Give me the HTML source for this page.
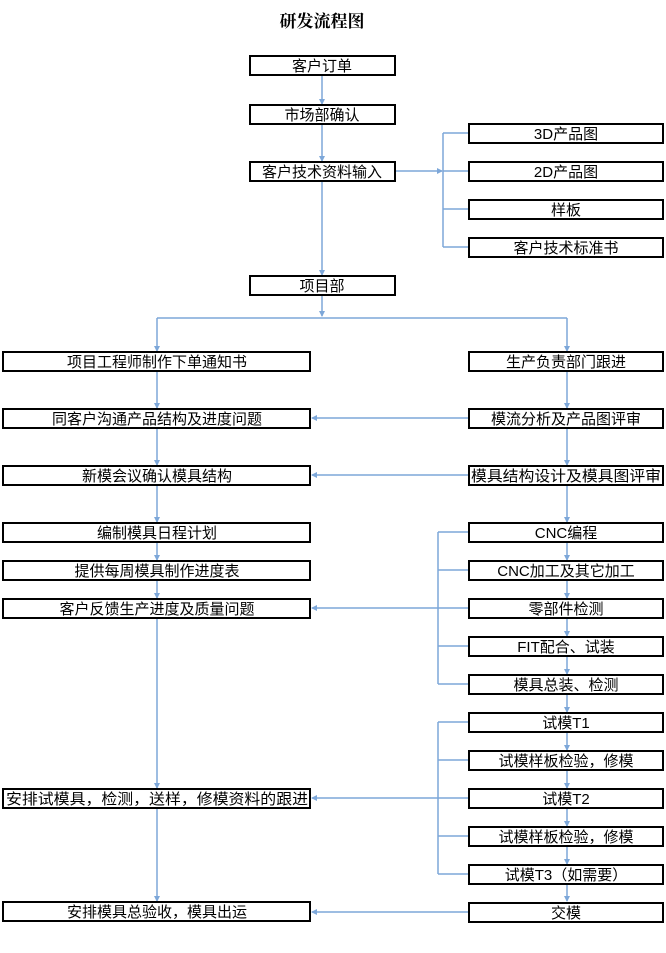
<!DOCTYPE html>
<html><head><meta charset="utf-8"><style>
html,body{margin:0;padding:0;background:#fff;}
svg{display:block;}
text{font-family:"Liberation Sans","Noto Sans CJK SC",sans-serif;font-size:15px;fill:#000;}
.t{font-family:"Liberation Serif","Noto Serif CJK SC",serif;font-size:17px;font-weight:bold;}
rect{fill:#fff;stroke:#000;stroke-width:2;}
line{stroke:#7da7d9;stroke-width:1.5;}
</style></head><body>
<svg width="666" height="953" viewBox="0 0 666 953" xmlns="http://www.w3.org/2000/svg">
<defs><marker id="a" markerWidth="6" markerHeight="6" refX="5" refY="3" orient="auto" markerUnits="userSpaceOnUse"><path d="M0,0 L6,3 L0,6 z" fill="#7da7d9"/></marker></defs>
<text class="t" x="322" y="27" text-anchor="middle">研发流程图</text>

<!-- connectors -->
<line x1="322" y1="75" x2="322" y2="104" marker-end="url(#a)"/>
<line x1="322" y1="124" x2="322" y2="161" marker-end="url(#a)"/>
<line x1="322" y1="181" x2="322" y2="275" marker-end="url(#a)"/>
<line x1="395" y1="171" x2="442" y2="171" marker-end="url(#a)"/>
<line x1="443" y1="133" x2="443" y2="247"/>
<line x1="443" y1="133" x2="469" y2="133"/>
<line x1="443" y1="171" x2="469" y2="171"/>
<line x1="443" y1="209" x2="469" y2="209"/>
<line x1="443" y1="247" x2="469" y2="247"/>
<line x1="322" y1="295" x2="322" y2="316" marker-end="url(#a)"/>
<line x1="157" y1="318" x2="567" y2="318"/>
<line x1="157" y1="318" x2="157" y2="351" marker-end="url(#a)"/>
<line x1="567" y1="318" x2="567" y2="351" marker-end="url(#a)"/>

<line x1="157" y1="371" x2="157" y2="408" marker-end="url(#a)"/>
<line x1="157" y1="428" x2="157" y2="465" marker-end="url(#a)"/>
<line x1="157" y1="485" x2="157" y2="522" marker-end="url(#a)"/>
<line x1="157" y1="542" x2="157" y2="560" marker-end="url(#a)"/>
<line x1="157" y1="580" x2="157" y2="598" marker-end="url(#a)"/>
<line x1="157" y1="618" x2="157" y2="788" marker-end="url(#a)"/>
<line x1="157" y1="808" x2="157" y2="901" marker-end="url(#a)"/>

<line x1="567" y1="371" x2="567" y2="408" marker-end="url(#a)"/>
<line x1="567" y1="428" x2="567" y2="465" marker-end="url(#a)"/>
<line x1="567" y1="485" x2="567" y2="522" marker-end="url(#a)"/>
<line x1="567" y1="542" x2="567" y2="560" marker-end="url(#a)"/>
<line x1="567" y1="580" x2="567" y2="598" marker-end="url(#a)"/>
<line x1="567" y1="618" x2="567" y2="636" marker-end="url(#a)"/>
<line x1="567" y1="656" x2="567" y2="674" marker-end="url(#a)"/>
<line x1="567" y1="694" x2="567" y2="712" marker-end="url(#a)"/>
<line x1="567" y1="732" x2="567" y2="750" marker-end="url(#a)"/>
<line x1="567" y1="770" x2="567" y2="788" marker-end="url(#a)"/>
<line x1="567" y1="808" x2="567" y2="826" marker-end="url(#a)"/>
<line x1="567" y1="846" x2="567" y2="864" marker-end="url(#a)"/>
<line x1="567" y1="884" x2="567" y2="901" marker-end="url(#a)"/>

<line x1="469" y1="418" x2="312" y2="418" marker-end="url(#a)"/>
<line x1="469" y1="475" x2="312" y2="475" marker-end="url(#a)"/>
<line x1="438" y1="532" x2="438" y2="684"/>
<line x1="438" y1="532" x2="469" y2="532"/>
<line x1="438" y1="570" x2="469" y2="570"/>
<line x1="469" y1="608" x2="312" y2="608" marker-end="url(#a)"/>
<line x1="438" y1="646" x2="469" y2="646"/>
<line x1="438" y1="684" x2="469" y2="684"/>
<line x1="438" y1="722" x2="438" y2="874"/>
<line x1="438" y1="722" x2="469" y2="722"/>
<line x1="438" y1="760" x2="469" y2="760"/>
<line x1="469" y1="798" x2="312" y2="798" marker-end="url(#a)"/>
<line x1="438" y1="836" x2="469" y2="836"/>
<line x1="438" y1="874" x2="469" y2="874"/>
<line x1="469" y1="912" x2="312" y2="912" marker-end="url(#a)"/>

<!-- top boxes -->
<rect x="250" y="56" width="145" height="19"/><text x="322" y="71" text-anchor="middle">客户订单</text>
<rect x="250" y="105" width="145" height="19"/><text x="322" y="120" text-anchor="middle">市场部确认</text>
<rect x="250" y="162" width="145" height="19"/><text x="322" y="177" text-anchor="middle">客户技术资料输入</text>
<rect x="250" y="276" width="145" height="19"/><text x="322" y="291" text-anchor="middle">项目部</text>

<rect x="469" y="124" width="194" height="19"/><text x="566" y="139" text-anchor="middle">3D产品图</text>
<rect x="469" y="162" width="194" height="19"/><text x="566" y="177" text-anchor="middle">2D产品图</text>
<rect x="469" y="200" width="194" height="19"/><text x="566" y="215" text-anchor="middle">样板</text>
<rect x="469" y="238" width="194" height="19"/><text x="566" y="253" text-anchor="middle">客户技术标准书</text>

<!-- left column -->
<rect x="3" y="352" width="307" height="19"/><text x="157" y="367" text-anchor="middle">项目工程师制作下单通知书</text>
<rect x="3" y="409" width="307" height="19"/><text x="157" y="424" text-anchor="middle">同客户沟通产品结构及进度问题</text>
<rect x="3" y="466" width="307" height="19"/><text x="157" y="481" text-anchor="middle">新模会议确认模具结构</text>
<rect x="3" y="523" width="307" height="19"/><text x="157" y="538" text-anchor="middle">编制模具日程计划</text>
<rect x="3" y="561" width="307" height="19"/><text x="157" y="576" text-anchor="middle">提供每周模具制作进度表</text>
<rect x="3" y="599" width="307" height="19"/><text x="157" y="614" text-anchor="middle">客户反馈生产进度及质量问题</text>
<rect x="3" y="789" width="307" height="19"/><text x="157" y="804" text-anchor="middle" textLength="302" lengthAdjust="spacingAndGlyphs">安排试模具，检测，送样，修模资料的跟进</text>
<rect x="3" y="902" width="307" height="19"/><text x="157" y="917" text-anchor="middle">安排模具总验收，模具出运</text>

<!-- right column -->
<rect x="469" y="352" width="194" height="19"/><text x="566" y="367" text-anchor="middle">生产负责部门跟进</text>
<rect x="469" y="409" width="194" height="19"/><text x="566" y="424" text-anchor="middle">模流分析及产品图评审</text>
<rect x="469" y="466" width="194" height="19"/><text x="566" y="481" text-anchor="middle" textLength="190" lengthAdjust="spacingAndGlyphs">模具结构设计及模具图评审</text>
<rect x="469" y="523" width="194" height="19"/><text x="566" y="538" text-anchor="middle">CNC编程</text>
<rect x="469" y="561" width="194" height="19"/><text x="566" y="576" text-anchor="middle">CNC加工及其它加工</text>
<rect x="469" y="599" width="194" height="19"/><text x="566" y="614" text-anchor="middle">零部件检测</text>
<rect x="469" y="637" width="194" height="19"/><text x="566" y="652" text-anchor="middle">FIT配合、试装</text>
<rect x="469" y="675" width="194" height="19"/><text x="566" y="690" text-anchor="middle">模具总装、检测</text>
<rect x="469" y="713" width="194" height="19"/><text x="566" y="728" text-anchor="middle">试模T1</text>
<rect x="469" y="751" width="194" height="19"/><text x="566" y="766" text-anchor="middle">试模样板检验，修模</text>
<rect x="469" y="789" width="194" height="19"/><text x="566" y="804" text-anchor="middle">试模T2</text>
<rect x="469" y="827" width="194" height="19"/><text x="566" y="842" text-anchor="middle">试模样板检验，修模</text>
<rect x="469" y="865" width="194" height="19"/><text x="566" y="880" text-anchor="middle">试模T3（如需要）</text>
<rect x="469" y="903" width="194" height="19"/><text x="566" y="918" text-anchor="middle">交模</text>
</svg>
</body></html>
